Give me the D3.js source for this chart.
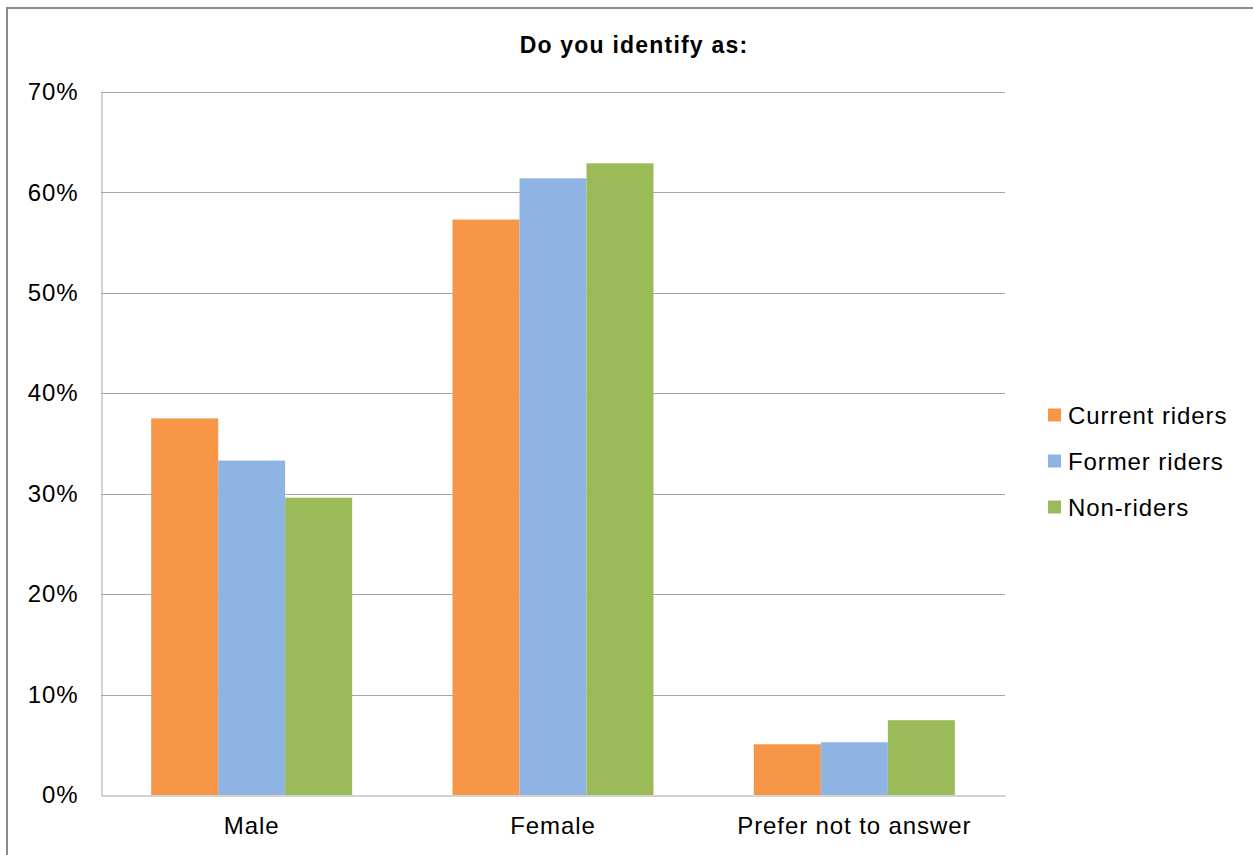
<!DOCTYPE html>
<html>
<head>
<meta charset="utf-8">
<script src="https://cdn.jsdelivr.net/npm/d3@7"></script>
<style>
  html, body { margin: 0; padding: 0; background: #fff; }
  svg { display: block; font-family: "Liberation Sans", Arial, sans-serif; }
</style>
</head>
<body>
<svg id="chart" width="1253" height="855"></svg>
<script>
// Survey answers by rider group
const categories = ["Male", "Female", "Prefer not to answer"];
const seriesNames = ["Current riders", "Former riders", "Non-riders"];
const currentRiders = [37.5, 57.3, 5.05];
const formerRiders = [33.3, 61.4, 5.25];
const nonRiders = [29.6, 62.9, 7.45];
const yTicks = [0, 10, 20, 30, 40, 50, 60, 70];
const colors = ["#f79646", "#8eb4e3", "#9bbb59"];
const title = "Do you identify as:";

const series = [currentRiders, formerRiders, nonRiders];

const labelFont = { size: 24, spacing: 0.9 };

const svg = d3.select("#chart");

// Outer frame
svg.append("rect")
  .attr("x", 7).attr("y", 8)
  .attr("width", 1300).attr("height", 900)
  .attr("fill", "#fff")
  .attr("stroke", "#8c8c8c").attr("stroke-width", 2);

const plot = { left: 101, right: 1005, top: 92, bottom: 795 };

const y = d3.scaleLinear().domain([0, 70]).range([plot.bottom, plot.top]);
const x0 = d3.scaleBand().domain(categories).range([plot.left, plot.right])
  .paddingInner(0.333).paddingOuter(0.1665);
const x1 = d3.scaleBand().domain(seriesNames).range([0, x0.bandwidth()]);

// Horizontal gridlines
svg.append("g").selectAll("line").data(yTicks.filter(t => t > 0)).join("line")
  .attr("x1", plot.left).attr("x2", plot.right)
  .attr("y1", d => Math.round(y(d)) + 0.5).attr("y2", d => Math.round(y(d)) + 0.5)
  .attr("stroke", "#a6a6a6").attr("stroke-width", 1);

// Y axis
const yAxis = d3.axisLeft(y).tickValues(yTicks).tickSize(0).tickPadding(23)
  .tickFormat(d => d + "%");
const gy = svg.append("g").attr("transform", `translate(${plot.left + 0.5},0)`).call(yAxis);
gy.select(".domain").attr("stroke", "#a6a6a6");
gy.selectAll("text").attr("font-size", labelFont.size).attr("fill", "#000")
  .attr("letter-spacing", labelFont.spacing)
  .attr("font-family", "Liberation Sans, Arial, sans-serif");

// Bars
const groups = svg.append("g").selectAll("g").data(categories).join("g")
  .attr("transform", d => `translate(${x0(d)},0)`);
groups.selectAll("rect")
  .data((c, i) => series.map((s, j) => ({ name: seriesNames[j], value: s[i], color: colors[j] })))
  .join("rect")
  .attr("x", d => x1(d.name))
  .attr("width", x1.bandwidth())
  .attr("y", d => y(d.value))
  .attr("height", d => y(0) - y(d.value))
  .attr("fill", d => d.color);

// X axis baseline and labels
const xAxis = d3.axisBottom(x0).tickSize(0).tickPadding(21);
const gx = svg.append("g").attr("transform", `translate(0,${plot.bottom + 0.5})`).call(xAxis);
gx.select(".domain").attr("stroke", "#a6a6a6");
gx.selectAll("text").attr("font-size", labelFont.size).attr("fill", "#000")
  .attr("letter-spacing", labelFont.spacing)
  .attr("font-family", "Liberation Sans, Arial, sans-serif");

// Title
svg.append("text")
  .attr("x", 634).attr("y", 53)
  .attr("text-anchor", "middle")
  .attr("font-size", 23).attr("font-weight", "bold")
  .attr("letter-spacing", 1.2)
  .text(title);

// Legend
const legend = svg.append("g").selectAll("g").data(seriesNames).join("g")
  .attr("transform", (d, i) => `translate(1048,${415 + i * 46})`);
legend.append("rect")
  .attr("x", 0).attr("y", -6.5).attr("width", 13).attr("height", 13)
  .attr("fill", (d, i) => colors[i]);
legend.append("text")
  .attr("x", 20).attr("y", 8.5)
  .attr("font-size", labelFont.size)
  .attr("letter-spacing", labelFont.spacing)
  .text(d => d);
</script>
</body>
</html>
